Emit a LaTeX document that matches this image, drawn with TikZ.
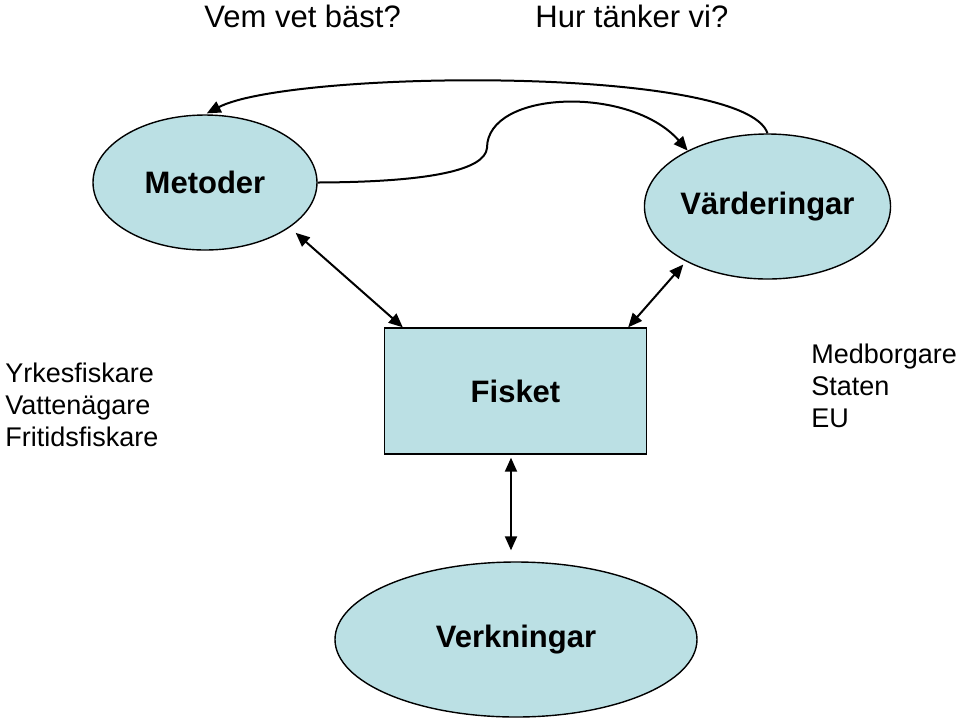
\documentclass[tikz,border=0pt]{standalone}
\usepackage{fontspec}
\setmainfont{Liberation Sans}
\usetikzlibrary{shapes.geometric,arrows.meta}
\definecolor{boxfill}{RGB}{187,224,228}
\begin{document}
\begin{tikzpicture}[x=0.5pt,y=-0.5pt,
  blob/.style={ellipse,draw=black,line width=0.7pt,fill=boxfill,inner sep=0pt,font=\fontsize{15.5}{18}\selectfont\bfseries},
  boxnode/.style={rectangle,draw=black,line width=0.7pt,fill=boxfill,inner sep=0pt,font=\fontsize{15.5}{18}\selectfont\bfseries},
  conn/.style={line width=1pt,-{Triangle[length=7pt,width=6pt]}},
  biconn/.style={line width=1pt,{Triangle[length=7pt,width=6pt]}-{Triangle[length=7pt,width=6pt]}},
  title/.style={anchor=base west,inner sep=0pt,font=\fontsize{15.5}{18}\selectfont},
  side/.style={anchor=base west,inner sep=0pt,align=left,font=\fontsize{13.5}{16}\selectfont}]
\useasboundingbox (0,0) rectangle (960,720);
\node[title] (t1) at (204,27) {Vem vet bäst?};
\node[title] (t2) at (535,27) {Hur tänker vi?};
\node[blob,minimum width=112pt,minimum height=67.5pt] (met) at (205,182.5) {Metoder};
\node[blob,minimum width=112.5pt,minimum height=72.5pt] (val) at (767.5,206.5) {Värderingar};
\node[boxnode,minimum width=131pt,minimum height=63pt] (fis) at (515.5,391) {Fisket};
\node[blob,minimum width=181pt,minimum height=77.5pt] (ver) at (516,639.5) {Verkningar};
\node[side] (left) at (5,446) {Yrkesfiskare\\Vattenägare\\Fritidsfiskare};
\node[side] (right) at (811,427) {Medborgare\\Staten\\EU};
\draw[biconn,shorten <=4pt] (met.-28) -- ([xshift=9.5pt]fis.north west);
\draw[biconn,shorten <=2pt] (val.-146) -- ([xshift=-9.5pt]fis.north east);
\draw[biconn,shorten <=1.5pt,shorten >=5.5pt] ([xshift=-2.25pt]fis.south) -- ([xshift=-2.25pt]fis.south |- ver.north);
\draw[conn,shorten >=1pt] (val.north) .. controls (745,65) and (290,70) .. (met.north);
\draw[conn] (met.east) .. controls (430,182) and (485,170) .. (487,148) .. controls (487,90) and (630,85) .. (val.145);
\end{tikzpicture}
\end{document}
